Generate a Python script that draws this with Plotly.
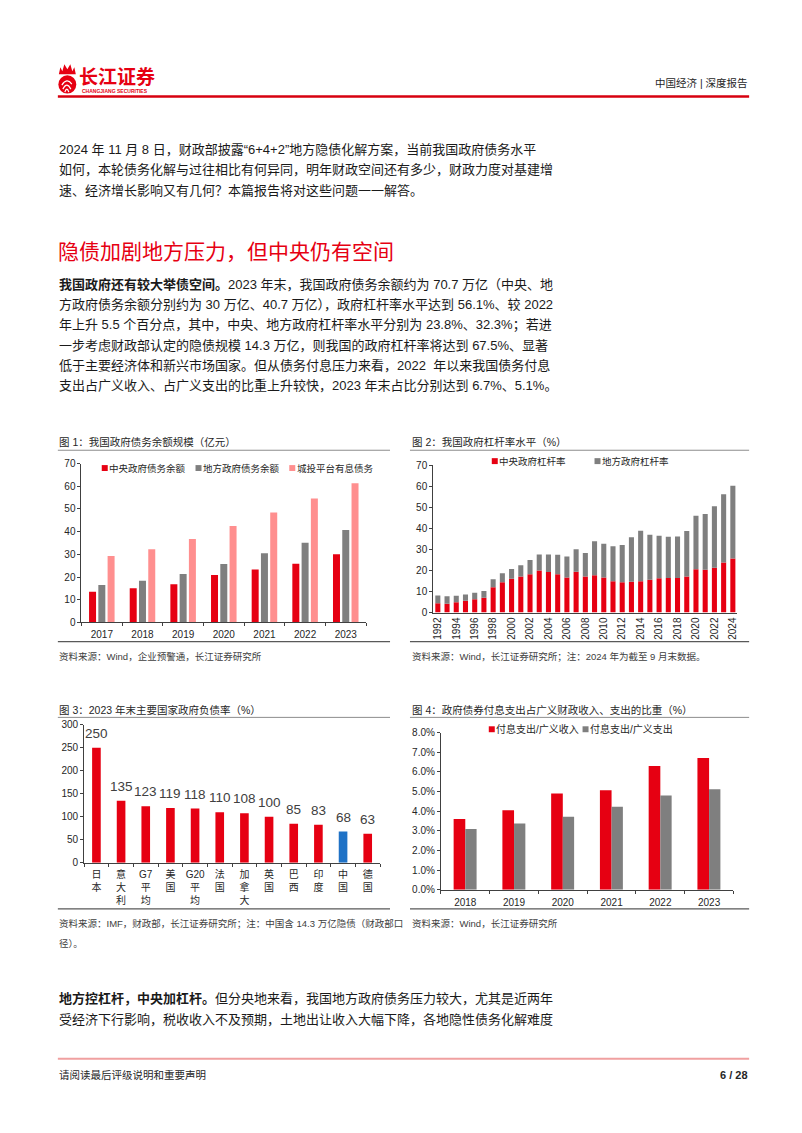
import plotly.graph_objects as go

W, H = 802, 1133
FONT = "Liberation Sans, Noto Sans CJK SC, sans-serif"
RED = "#E60012"
GREY = "#7F7F7F"
PINK = "#FF8F8F"
BLUE = "#1F72C6"
AX = "#404040"

# ---------------- data ----------------
years1 = ["2017", "2018", "2019", "2020", "2021", "2022", "2023"]
central_debt = [13.5, 15.0, 16.8, 20.9, 23.3, 25.9, 30.0]
local_debt = [16.5, 18.4, 21.3, 25.7, 30.5, 35.1, 40.7]
lgfv_debt = [29.3, 32.2, 36.8, 42.5, 48.4, 54.6, 61.3]
legend1 = ["中央政府债务余额", "地方政府债务余额", "城投平台有息债务"]

years2 = list(range(1992, 2025))
central_lev = [4.4, 4.2, 4.9, 5.6, 6.3, 7.0, 12.0, 14.4, 16.0, 17.1, 18.2, 20.0, 19.2,
               18.2, 16.6, 19.4, 17.1, 17.7, 16.6, 14.9, 14.4, 14.6, 14.9, 15.5, 16.3,
               16.4, 16.4, 17.1, 20.5, 20.3, 21.3, 23.8, 25.7]
local_lev = [3.7, 3.5, 3.1, 3.0, 3.1, 3.2, 3.8, 4.2, 4.7, 5.4, 6.7, 7.5, 8.3,
             9.2, 10.0, 10.6, 11.1, 16.1, 16.1, 16.6, 17.7, 21.1, 23.9, 21.4, 20.2,
             19.6, 19.7, 21.6, 25.4, 26.5, 29.2, 32.3, 34.5]
legend2 = ["中央政府杠杆率", "地方政府杠杆率"]

countries = ["日本", "意大利", "G7平均", "美国", "G20平均", "法国", "加拿大", "英国",
             "巴西", "印度", "中国", "德国"]
debt_ratio = [250, 135, 123, 119, 118, 110, 108, 100, 85, 83, 68, 63]
highlight = "中国"

years4 = ["2018", "2019", "2020", "2021", "2022", "2023"]
int_rev = [0.0360, 0.0405, 0.0490, 0.0507, 0.0630, 0.0670]
int_exp = [0.0310, 0.0337, 0.0372, 0.0423, 0.0480, 0.0512]
legend4 = ["付息支出/广义收入", "付息支出/广义支出"]


def px(x):
    return x / W


def py(y):
    return 1 - y / H


def vert(label):
    parts, buf = [], ""
    for ch in label:
        if ord(ch) < 128:
            buf += ch
        else:
            if buf:
                parts.append(buf)
                buf = ""
            parts.append(ch)
    if buf:
        parts.append(buf)
    return "<br>".join(parts)


fig = go.Figure()

# chart 1
for vals, col, off, nm in zip([central_debt, local_debt, lgfv_debt], [RED, GREY, PINK],
                              [-0.314, -0.086, 0.142], legend1):
    fig.add_bar(x=list(range(len(years1))), y=vals, width=0.172, offset=off,
                marker=dict(color=col, line=dict(width=0)), name=nm,
                xaxis="x", yaxis="y", showlegend=False)

# chart 2 (stacked through base)
fig.add_bar(x=years2, y=central_lev, width=0.55, offset=-0.275,
            marker=dict(color=RED, line=dict(width=0)), name=legend2[0],
            xaxis="x2", yaxis="y2", showlegend=False)
fig.add_bar(x=years2, y=local_lev, base=central_lev, width=0.55, offset=-0.275,
            marker=dict(color=GREY, line=dict(width=0)), name=legend2[1],
            xaxis="x2", yaxis="y2", showlegend=False)

# chart 3
fig.add_bar(x=list(range(len(countries))), y=debt_ratio, width=0.35, offset=-0.175,
            marker=dict(color=[BLUE if c == highlight else RED for c in countries],
                        line=dict(width=0)),
            xaxis="x3", yaxis="y3", showlegend=False, name="负债率")

# chart 4
fig.add_bar(x=list(range(len(years4))), y=int_rev, width=0.239, offset=-0.239,
            marker=dict(color=RED, line=dict(width=0)), name=legend4[0],
            xaxis="x4", yaxis="y4", showlegend=False)
fig.add_bar(x=list(range(len(years4))), y=int_exp, width=0.232, offset=0.0,
            marker=dict(color=GREY, line=dict(width=0)), name=legend4[1],
            xaxis="x4", yaxis="y4", showlegend=False)

tickfont = dict(size=10, color="#262626", family=FONT)
base_ax = dict(showgrid=False, zeroline=False, showline=True, linecolor=AX, linewidth=1,
               tickfont=tickfont, fixedrange=True)

layout = dict(
    width=W, height=H, margin=dict(l=0, r=0, t=0, b=0),
    paper_bgcolor="white", plot_bgcolor="white", barmode="group", showlegend=False,
    font=dict(family=FONT, color="#1a1a1a"),
    xaxis=dict(base_ax, domain=[px(80.7), px(366)], range=[-0.5, 6.5], anchor="y",
               tickvals=list(range(7)), ticktext=years1, ticks="outside",
               tickcolor="rgba(0,0,0,0)", ticklen=3,
               minor=dict(tickvals=[i - 0.5 for i in range(8)], ticks="outside",
                          ticklen=3, tickcolor=AX)),
    yaxis=dict(base_ax, domain=[py(623), py(462.5)], range=[0, 70], dtick=10, anchor="x",
               ticks="outside", ticklen=3, tickcolor=AX),
    xaxis2=dict(base_ax, domain=[px(433.3), px(738.3)], range=[1991.5, 2024.5], anchor="y2",
                tickvals=years2[::2], ticktext=[str(y) for y in years2[::2]], tickangle=-90,
                ticks="", tickfont=dict(size=10, color="#262626", family=FONT)),
    yaxis2=dict(base_ax, domain=[py(613), py(464)], range=[0, 70], dtick=10, anchor="x2",
                ticks="outside", ticklen=3, tickcolor=AX),
    xaxis3=dict(base_ax, domain=[px(83.3), px(380)], range=[-0.5, 11.5], anchor="y3",
                tickvals=list(range(len(countries))), ticktext=[vert(c) for c in countries],
                ticks="outside", tickcolor="rgba(0,0,0,0)", ticklen=2,
                tickfont=dict(size=10, color="#262626", family=FONT),
                minor=dict(tickvals=[i - 0.5 for i in range(13)], ticks="outside",
                           ticklen=3, tickcolor=AX)),
    yaxis3=dict(base_ax, domain=[py(866), py(726.5)], range=[0, 300], dtick=50, anchor="x3",
                ticks="outside", ticklen=3, tickcolor=AX),
    xaxis4=dict(base_ax, domain=[px(441), px(734.3)], range=[-0.5, 5.5], anchor="y4",
                tickvals=list(range(6)), ticktext=years4, ticks="outside",
                tickcolor="rgba(0,0,0,0)", ticklen=3,
                minor=dict(tickvals=[i - 0.5 for i in range(7)], ticks="outside",
                           ticklen=3, tickcolor=AX)),
    yaxis4=dict(base_ax, domain=[py(893.3), py(734.3)], range=[0, 0.08], dtick=0.01,
                tickformat=".1%", anchor="x4", ticks="outside", ticklen=3, tickcolor=AX),
)

ann = []
shapes = []

# chart 3 value labels, placed via the data axes
for i, v in enumerate(debt_ratio):
    ann.append(dict(x=i, y=v, xref="x3", yref="y3", text=str(v), showarrow=False,
                    xanchor="center", yanchor="bottom", yshift=6, borderpad=0,
                    font=dict(size=13.5, color="#404040", family=FONT)))


def txt(x, y, s, size=13, color="#1a1a1a", anchor="left"):
    ann.append(dict(x=px(x), y=py(y), xref="paper", yref="paper", text=s, showarrow=False,
                    xanchor=anchor, yanchor="middle", borderpad=0,
                    font=dict(size=size, color=color, family=FONT)))


def hline(x0, x1, y, color, width=1):
    shapes.append(dict(type="line", xref="paper", yref="paper", x0=px(x0), x1=px(x1),
                       y0=py(y), y1=py(y), line=dict(color=color, width=width)))


def square(x, y, color, s=6):
    shapes.append(dict(type="rect", xref="paper", yref="paper", x0=px(x), x1=px(x + s),
                       y0=py(y + s / 2), y1=py(y - s / 2), fillcolor=color,
                       line=dict(width=0)))


def P(x, y):
    return f"{px(x):.5f},{py(y):.5f}"


# ---------------- header ----------------
shapes.append(dict(type="path", xref="paper", yref="paper", fillcolor=RED, line=dict(width=0),
                   path="M" + P(58, 69) + " L" + P(59.5, 62) + " L" + P(61.5, 66) + " L" + P(63.5, 59)
                   + " L" + P(66.5, 64) + " L" + P(69.5, 59) + " L" + P(71.5, 66) + " L" + P(73.5, 62)
                   + " L" + P(75, 69) + " Z"))
shapes.append(dict(type="circle", xref="paper", yref="paper", x0=px(57.5), x1=px(75.5),
                   y0=py(88.5), y1=py(70), fillcolor=RED, line=dict(width=0)))
for (a, b, c) in [((61, 80), (66, 72), (71, 79)), ((62, 84), (66, 76), (70, 84)),
                  ((64, 87), (66, 81), (68, 87))]:
    shapes.append(dict(type="path", xref="paper", yref="paper",
                       path="M" + P(*a) + " Q" + P(*b) + " " + P(*c),
                       line=dict(color="white", width=1.2)))
ann.append(dict(x=px(77), y=py(70), xref="paper", yref="paper", text="<b>长江证券</b>",
                showarrow=False, xanchor="left", yanchor="middle", borderpad=0,
                font=dict(size=19, color=RED, family="Noto Sans CJK SC")))
ann.append(dict(x=px(80), y=py(85.5), xref="paper", yref="paper",
                text="<b>CHANGJIANG SECURITIES</b>", showarrow=False, xanchor="left",
                yanchor="middle", borderpad=0, font=dict(size=5, color=RED, family=FONT)))
txt(750, 78, "中国经济 | 深度报告", size=10.5, color="#262626", anchor="right")
hline(57, 750, 91.5, "#D7000F", 2.5)

# ---------------- body text ----------------
para1 = ["2024 年 11 月 8 日，财政部披露“6+4+2”地方隐债化解方案，当前我国政府债务水平",
         "如何，本轮债务化解与过往相比有何异同，明年财政空间还有多少，财政力度对基建增",
         "速、经济增长影响又有几何？本篇报告将对这些问题一一解答。"]
for i, s in enumerate(para1):
    txt(57, 145 + 20.5 * i, s, size=13)

txt(56, 248, "隐债加剧地方压力，但中央仍有空间", size=21, color=RED)

para2 = ["<b>我国政府还有较大举债空间。</b>2023 年末，我国政府债务余额约为 70.7 万亿（中央、地",
         "方政府债务余额分别约为 30 万亿、40.7 万亿），政府杠杆率水平达到 56.1%、较 2022",
         "年上升 5.5 个百分点，其中，中央、地方政府杠杆率水平分别为 23.8%、32.3%；若进",
         "一步考虑财政部认定的隐债规模 14.3 万亿，则我国的政府杠杆率将达到 67.5%、显著",
         "低于主要经济体和新兴市场国家。但从债务付息压力来看，2022  年以来我国债务付息",
         "支出占广义收入、占广义支出的比重上升较快，2023 年末占比分别达到 6.7%、5.1%。"]
for i, s in enumerate(para2):
    txt(57, 281.5 + 20.5 * i, s, size=13)

para3 = ["<b>地方控杠杆，中央加杠杆。</b>但分央地来看，我国地方政府债务压力较大，尤其是近两年",
         "受经济下行影响，税收收入不及预期，土地出让收入大幅下降，各地隐性债务化解难度"]
for i, s in enumerate(para3):
    txt(57, 1003 + 21.5 * i, s, size=13)

# ---------------- chart frames ----------------
txt(57, 441, "图 1：我国政府债务余额规模（亿元）", size=10.5, color="#262626")
txt(411, 441, "图 2：我国政府杠杆率水平（%）", size=10.5, color="#262626")
hline(57, 390, 449, "#8C8C8C", 1)
hline(410, 750, 449, "#8C8C8C", 1)
hline(57, 390, 642.5, "#595959", 1.2)
hline(410, 750, 642.5, "#595959", 1.2)
txt(57, 657, "资料来源：Wind，企业预警通，长江证券研究所", size=9.5, color="#404040")
txt(411, 657, "资料来源：Wind，长江证券研究所；注：2024 年为截至 9 月末数据。", size=9.5,
    color="#404040")

txt(57, 711.5, "图 3：2023 年末主要国家政府负债率（%）", size=10.5, color="#262626")
txt(411, 711.5, "图 4：政府债券付息支出占广义财政收入、支出的比重（%）", size=10.5, color="#262626")
hline(57, 390, 719, "#8C8C8C", 1)
hline(410, 750, 719, "#8C8C8C", 1)
hline(57, 390, 912.5, "#595959", 1.2)
hline(410, 750, 912.5, "#595959", 1.2)
txt(57, 927.5, "资料来源：IMF，财政部，长江证券研究所；注：中国含 14.3 万亿隐债（财政部口",
    size=9.5, color="#404040")
txt(57, 947.5, "径）。", size=9.5, color="#404040")
txt(411, 927.5, "资料来源：Wind，长江证券研究所", size=9.5, color="#404040")

# legends
for (x, col, lab) in zip([101, 195, 289], [RED, GREY, PINK], legend1):
    square(x, 467, col)
    txt(x + 6.5, 467, lab, size=9.5, color="#262626")
for (x, col, lab) in zip([492, 595], [RED, GREY], legend2):
    square(x, 460, col)
    txt(x + 6.5, 460, lab, size=9.5, color="#262626")
for (x, col, lab) in zip([489, 583], [RED, GREY], legend4):
    square(x, 731, col)
    txt(x + 6.5, 731, lab, size=10, color="#262626")

# ---------------- footer ----------------
hline(57, 750, 1064, "#F0A0A0", 2)
txt(57, 1080, "请阅读最后评级说明和重要声明", size=10.5, color="#262626")
txt(750, 1080, "<b>6 / 28</b>", size=11, color="#262626", anchor="right")

layout["annotations"] = ann
layout["shapes"] = shapes
fig.update_layout(**layout)
fig.write_html("out.html")
